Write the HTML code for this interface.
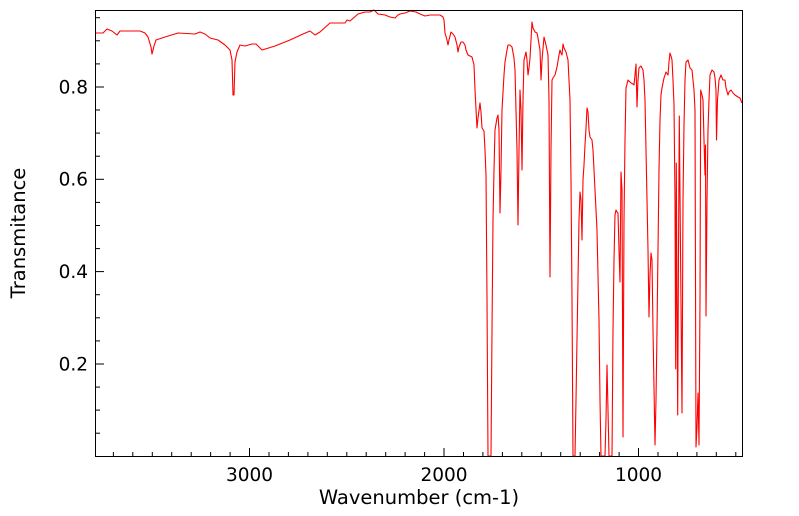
<!DOCTYPE html>
<html><head><meta charset="utf-8"><style>
html,body{margin:0;padding:0;background:#fff;}
svg{display:block;font-family:"DejaVu Sans","Liberation Sans",sans-serif;}
</style></head><body>
<svg width="799" height="516" viewBox="0 0 799 516" xmlns="http://www.w3.org/2000/svg">
<rect x="0" y="0" width="799" height="516" fill="#fff"/>
<polyline fill="none" stroke="#ff0000" stroke-width="1.1" stroke-linejoin="round" points="
95,33 103,33 107,29 112,31 117,35 120,31 130,31 140,31 145,33 148,37 151,47 152,54 154,46 156,40 165,37 178,33 195,34 200,32 205,34 210,38 218,40 225,45 230,50 232,60 233,95 234,95 235,62 237,52 240,45 245,46 252,44 256,44 260,48 262,50 275,46 290,40 303,34 310,31 315,35 320,32 330,23 345,23 347,20 350,21 358,14 365,12 370,12 374,10 378,14 385,15 390,17 395,18 398,15 400,14 405,13 410,11 416,12 420,14 425,16 430,15 436,15 440,15 443,17 444,20 445,33 447,40 448,45 449,40 451,32 453,34 455,37 457,45 458,52 459,47 461,42 463,42 465,45 466,50 468,55 470,56 472,57 474,65 475,90 477,128 478,118 480,103 481,112 482,128 484,131 485,150 486,175 487,300 488,456 491,456 492,330 493,220 494,170 495,130 497,118 498,115 499,130 500,213 501,170 502,110 504,75 505,62 507,50 508,45 510,45 512,47 514,58 515,70 517,150 518,225 519,150 520,90 521,110 522,170 523,100 524,60 526,52 527,60 528,75 529,68 530,58 531,40 532,22 533,28 535,32 537,33 538,38 540,50 541,80 542,60 544,37 546,45 548,55 549,100 550,277 551,150 552,80 553,78 555,75 557,67 559,55 560,50 561,53 562,55 563,44 564,48 566,52 568,60 570,100 571,180 572,300 573,456 575,456 576,400 577,340 578,280 579,220 580,192 581,200 582,240 583,180 584,165 585,145 586,128 587,108 588,112 589,130 590,137 592,140 593,150 595,190 597,230 599,320 600,400 601,456 605,456 606,420 607,365 608,410 609,456 612,456 613,330 614,260 615,215 616,210 617,212 618,213 619,250 620,282 621,172 622,190 623,437 624,220 625,140 626,88 628,80 631,83 633,84 634,85 635,75 636,64 637,107 638,80 639,68 641,66 643,70 644,80 645,100 646,150 647,200 648,250 649,317 650,275 651,253 652,260 653,330 655,445 656,400 657,330 658,250 659,170 660,120 661,95 662,88 664,78 666,72 668,75 669,62 670,53 671,56 672,60 673,80 674,105 675,200 675.7,369 676.3,163 677,300 677.7,415 678.5,250 679.3,116 680.5,250 682,413 683,200 684,125 685,80 686,62 688,60 690,68 692,70 693,80 694,90 695,110 696,447 697,427 698,393 699,445 700,300 700.7,90 702,95 703,100 704,140 705,175 705.5,145 706,316 707,200 708,130 709,100 710,75 712,70 714,72 715,78 716,90 716.5,140 717.5,100 719,80 721,75 723,80 725,80 726,88 728,95 729,92 731,90 733,93 735,95 738,97 740,98 742,103"/>
<g stroke="#000" stroke-width="1" fill="none">
<rect x="95.5" y="10.5" width="647" height="446"/>
</g>
<g stroke="#000" stroke-width="1">
<line x1="113.4" y1="456" x2="113.4" y2="452"/><line x1="132.8" y1="456" x2="132.8" y2="452"/><line x1="152.3" y1="456" x2="152.3" y2="452"/><line x1="171.7" y1="456" x2="171.7" y2="452"/><line x1="191.2" y1="456" x2="191.2" y2="452"/><line x1="210.6" y1="456" x2="210.6" y2="452"/><line x1="230.1" y1="456" x2="230.1" y2="452"/><line x1="249.5" y1="456" x2="249.5" y2="448"/><line x1="269" y1="456" x2="269" y2="452"/><line x1="288.4" y1="456" x2="288.4" y2="452"/><line x1="307.9" y1="456" x2="307.9" y2="452"/><line x1="327.3" y1="456" x2="327.3" y2="452"/><line x1="346.8" y1="456" x2="346.8" y2="452"/><line x1="366.2" y1="456" x2="366.2" y2="452"/><line x1="385.7" y1="456" x2="385.7" y2="452"/><line x1="405.1" y1="456" x2="405.1" y2="452"/><line x1="424.6" y1="456" x2="424.6" y2="452"/><line x1="444" y1="456" x2="444" y2="448"/><line x1="463.5" y1="456" x2="463.5" y2="452"/><line x1="482.9" y1="456" x2="482.9" y2="452"/><line x1="502.4" y1="456" x2="502.4" y2="452"/><line x1="521.8" y1="456" x2="521.8" y2="452"/><line x1="541.3" y1="456" x2="541.3" y2="452"/><line x1="560.7" y1="456" x2="560.7" y2="452"/><line x1="580.2" y1="456" x2="580.2" y2="452"/><line x1="599.6" y1="456" x2="599.6" y2="452"/><line x1="619.1" y1="456" x2="619.1" y2="452"/><line x1="638.5" y1="456" x2="638.5" y2="448"/><line x1="658" y1="456" x2="658" y2="452"/><line x1="677.4" y1="456" x2="677.4" y2="452"/><line x1="696.9" y1="456" x2="696.9" y2="452"/><line x1="716.3" y1="456" x2="716.3" y2="452"/><line x1="735.8" y1="456" x2="735.8" y2="452"/>
<line x1="96" y1="433.2" x2="100" y2="433.2"/><line x1="96" y1="410.1" x2="100" y2="410.1"/><line x1="96" y1="387.1" x2="100" y2="387.1"/><line x1="96" y1="364" x2="104" y2="364"/><line x1="96" y1="340.9" x2="100" y2="340.9"/><line x1="96" y1="317.8" x2="100" y2="317.8"/><line x1="96" y1="294.7" x2="100" y2="294.7"/><line x1="96" y1="271.6" x2="104" y2="271.6"/><line x1="96" y1="248.6" x2="100" y2="248.6"/><line x1="96" y1="225.5" x2="100" y2="225.5"/><line x1="96" y1="202.4" x2="100" y2="202.4"/><line x1="96" y1="179.3" x2="104" y2="179.3"/><line x1="96" y1="156.2" x2="100" y2="156.2"/><line x1="96" y1="133.1" x2="100" y2="133.1"/><line x1="96" y1="110" x2="100" y2="110"/><line x1="96" y1="87" x2="104" y2="87"/><line x1="96" y1="63.9" x2="100" y2="63.9"/><line x1="96" y1="40.8" x2="100" y2="40.8"/><line x1="96" y1="17.7" x2="100" y2="17.7"/>
</g>
<g fill="#000">
<g font-size="18.5">
<text x="249.5" y="481" text-anchor="middle">3000</text>
<text x="444" y="481" text-anchor="middle">2000</text>
<text x="638.5" y="481" text-anchor="middle">1000</text>
<text x="88" y="370.5" text-anchor="end">0.2</text>
<text x="88" y="278" text-anchor="end">0.4</text>
<text x="88" y="185.5" text-anchor="end">0.6</text>
<text x="88" y="93.5" text-anchor="end">0.8</text>
</g>
<g font-size="19.5">
<text x="419" y="504" text-anchor="middle">Wavenumber (cm-1)</text>
<text transform="translate(25,233) rotate(-90)" text-anchor="middle">Transmitance</text>
</g>
</g>
</svg>
</body></html>
